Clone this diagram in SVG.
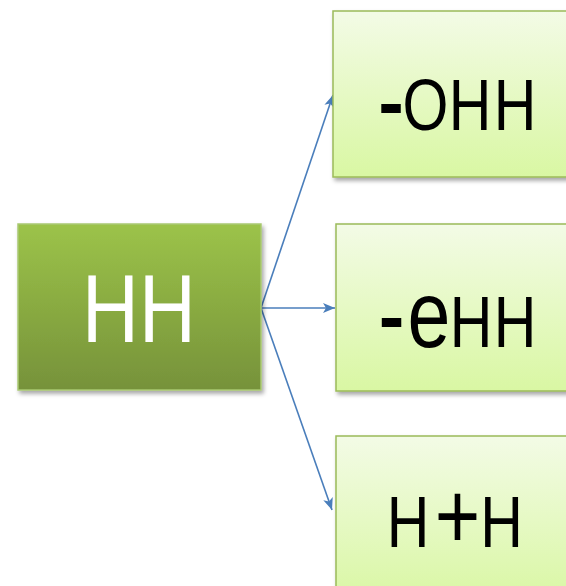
<svg xmlns="http://www.w3.org/2000/svg" width="566" height="586" viewBox="0 0 566 586">
  <defs>
    <linearGradient id="gRoot" x1="0" y1="0" x2="0" y2="1">
      <stop offset="0" stop-color="#9CC349"/>
      <stop offset="1" stop-color="#76923A"/>
    </linearGradient>
    <linearGradient id="gLeaf" x1="0" y1="0" x2="0" y2="1">
      <stop offset="0" stop-color="#F3FBE6"/>
      <stop offset="1" stop-color="#D9F7A3"/>
    </linearGradient>
    <filter id="shadow" x="-10%" y="-10%" width="130%" height="130%">
      <feDropShadow dx="2" dy="3" stdDeviation="2" flood-color="#000" flood-opacity="0.35"/>
    </filter>
    <marker id="arrow" viewBox="0 0 12 10" refX="12" refY="5" markerWidth="12" markerHeight="10" markerUnits="userSpaceOnUse" orient="auto">
      <path d="M0,0 L12,5 L0,10 L3,5 z" fill="#4A7EBB"/>
    </marker>
  </defs>
  <style>
    .root { fill: url(#gRoot); stroke: #A9C971; stroke-width: 1.5; filter: url(#shadow); }
    .leaf { fill: url(#gLeaf); stroke: #9BBB59; stroke-width: 1.5; filter: url(#shadow); }
    .edge { fill: none; stroke: #4A7EBB; stroke-width: 1.6; marker-end: url(#arrow); }
    .t { font-family: "Liberation Sans", Arial, sans-serif; text-anchor: middle; }
    .blk { fill: #000; }
    .wht { fill: #fff; }
    .dash { stroke: #000; stroke-width: 1.8; }
  </style>

  <g id="connectors">
    <path class="edge" d="M261,308 L333,95"/>
    <path class="edge" d="M261,308 L335,308"/>
    <path class="edge" d="M261,308 L332,510"/>
  </g>

  <g id="node-root">
    <rect class="root" x="18" y="224" width="243" height="166"/>
    <g transform="scale(0.82 1)">
      <text class="t wht" x="134.8" y="342" font-size="96">H</text>
      <text class="t wht" x="204.3" y="342" font-size="96">H</text>
    </g>
  </g>

  <g id="node-ohh">
    <rect class="leaf" x="333" y="11" width="250" height="166"/>
    <g transform="scale(0.82 1)">
      <text class="t blk dash" x="476.8" y="133" font-size="90">-</text>
      <text class="t blk" x="518.9" y="130" font-size="72">O</text>
      <text class="t blk" x="573.2" y="130" font-size="72">H</text>
      <text class="t blk" x="628.0" y="130" font-size="72">H</text>
    </g>
  </g>

  <g id="node-ehh">
    <rect class="leaf" x="336" y="224" width="250" height="167"/>
    <g transform="scale(0.82 1)">
      <text class="t blk dash" x="477.4" y="347" font-size="90">-</text>
      <text class="t blk" x="523.2" y="347" font-size="94">e</text>
      <text class="t blk" x="574.4" y="347" font-size="72">H</text>
      <text class="t blk" x="628.0" y="347" font-size="72">H</text>
    </g>
  </g>

  <g id="node-hph">
    <rect class="leaf" x="336" y="436" width="250" height="166"/>
    <g transform="scale(0.82 1)">
      <text class="t blk" x="497.6" y="547" font-size="72">H</text>
      <text class="t blk" x="557.9" y="548" font-size="95">+</text>
      <text class="t blk" x="611.6" y="547" font-size="72">H</text>
    </g>
  </g>
</svg>
